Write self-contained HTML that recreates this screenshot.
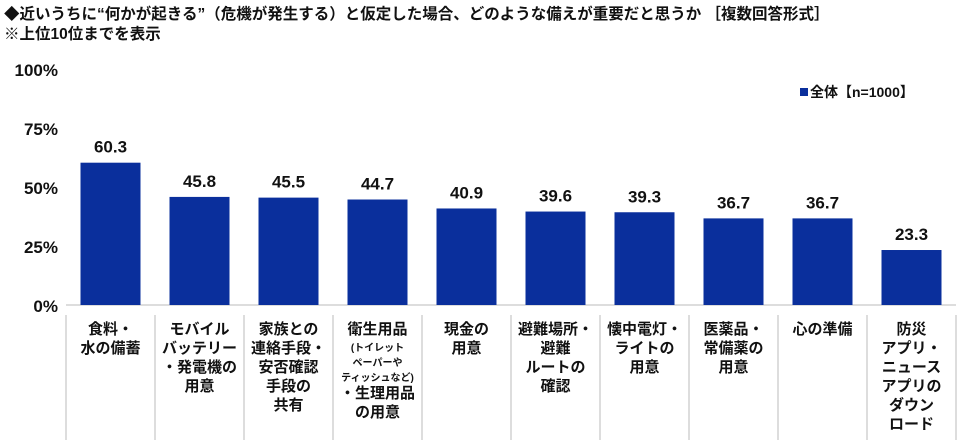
<!DOCTYPE html>
<html><head><meta charset="utf-8">
<style>
body{margin:0;background:#fff;font-family:"Liberation Sans","Noto Sans CJK JP",sans-serif;}
#wrap{position:relative;width:960px;height:446px;overflow:hidden;}
.t{position:absolute;left:4px;font-size:15.5px;font-weight:bold;color:#111;white-space:nowrap;}
svg text{font-family:"Liberation Sans","Noto Sans CJK JP",sans-serif;}
</style></head><body>
<div id="wrap">
<div class="t" style="top:2px">◆近いうちに“何かが起きる”（危機が発生する）と仮定した場合、どのような備えが重要だと思うか ［複数回答形式］</div>
<div class="t" style="top:22px">※上位10位までを表示</div>
<svg id="svg" width="960" height="446" style="position:absolute;left:0;top:0"></svg>
</div>
<script>
const categories=[["食料・","水の備蓄"],["モバイル","バッテリー","・発電機の","用意"],["家族との","連絡手段・","安否確認","手段の","共有"],["衛生用品","(トイレット","ペーパーや","ティッシュなど)","・生理用品","の用意"],["現金の","用意"],["避難場所・","避難","ルートの","確認"],["懐中電灯・","ライトの","用意"],["医薬品・","常備薬の","用意"],["心の準備"],["防災","アプリ・","ニュース","アプリの","ダウン","ロード"]];
const values=[60.3,45.8,45.5,44.7,40.9,39.6,39.3,36.7,36.7,23.3];
const yTicks=[0,25,50,75,100];
const tickLabels=["0%","25%","50%","75%","100%"];
const NS="http://www.w3.org/2000/svg";
const svg=document.getElementById('svg');
const x0=66,step=89,y0=305,ppu=2.36,bw=60;
const y=v=>y0-v*ppu;
const xc=i=>x0+step*i+step/2;
function mk(t,a){const e=document.createElementNS(NS,t);for(const k in a)e.setAttribute(k,a[k]);svg.appendChild(e);return e;}
yTicks.forEach((v,i)=>{
 const t=mk('text',{x:58,y:y(v)+7,'text-anchor':'end','font-size':17,'font-weight':'bold',fill:'#111'});
 t.textContent=tickLabels[i];
 
 
});
const ax=mk('line',{x1:x0,x2:x0+step*10,y1:y0,y2:y0,stroke:'#bbb','stroke-width':1});


for(let k=0;k<=10;k++){
 const l=mk('line',{x1:x0+step*k,x2:x0+step*k,y1:315,y2:440,stroke:'#bbb','stroke-width':1});
 
 
}
values.forEach((v,i)=>{
 const r=mk('rect',{x:xc(i)-bw/2,y:y(v),width:bw,height:y0-y(v),fill:'#0a2f9c'});
 
 
 const t=mk('text',{x:xc(i),y:y(v)-10,'text-anchor':'middle','font-size':17,'font-weight':'bold',fill:'#111'});
 t.textContent=v.toFixed(1);
 
 
 let yy=334;
 categories[i].forEach(s=>{
  const small=s.startsWith('(')||s.startsWith('ペーパー')||s.startsWith('ティッシュ');
  const tt=mk('text',{x:xc(i),y:small?yy-2:yy,'text-anchor':'middle','font-size':small?10:15,'font-weight':'bold',fill:'#111'});
  tt.textContent=s;
  
  
  yy+=small?15:19;
 });
});
const lg=mk('rect',{x:800,y:88,width:8,height:8,fill:'#0a2f9c'});


const lt=mk('text',{x:810,y:97,'font-size':14,'font-weight':'bold',fill:'#111'});
lt.textContent='全体【n=1000】';


</script>
</body></html>
